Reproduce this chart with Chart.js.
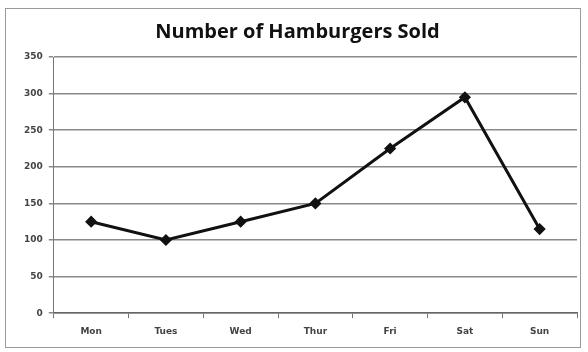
<!DOCTYPE html>
<html>
<head>
<meta charset="utf-8">
<script src="https://cdn.jsdelivr.net/npm/chart.js@4"></script>
<style>
    html, body { margin: 0; padding: 0; background: #fff; }
    #wrap { position: relative; width: 588px; height: 352px; }
    #frame { position: absolute; left: 5px; top: 8px; width: 574px; height: 338px; border: 1px solid #9a9a9a; pointer-events: none; }
</style>
</head>
<body>
<div id="wrap">
    <canvas id="chart" width="588" height="352"></canvas>
    <div id="frame"></div>
</div>
<script>
const days = ['Mon', 'Tues', 'Wed', 'Thur', 'Fri', 'Sat', 'Sun'];
const sold = [125, 100, 125, 150, 225, 295, 115];
const yTicks = [0, 50, 100, 150, 200, 250, 300, 350];

const ctx = document.getElementById('chart').getContext('2d');
new Chart(ctx, {
    type: 'line',
    data: {
        labels: days,
        datasets: [{
            label: 'Hamburgers',
            data: sold,
            borderColor: '#111',
            borderWidth: 3,
            pointStyle: 'rectRot',
            pointRadius: 4,
            pointBackgroundColor: '#111',
            pointBorderColor: '#111',
            tension: 0
        }]
    },
    options: {
        responsive: false,
        animation: false,
        layout: { padding: { left: 18, right: 11, top: 14, bottom: 7 } },
        plugins: {
            legend: { display: false },
            tooltip: { enabled: false },
            title: {
                display: true,
                text: 'Number of Hamburgers Sold',
                color: '#111',
                font: { family: 'Open Sans', size: 20, weight: 'bold' },
                padding: { top: 6, bottom: 13 }
            }
        },
        scales: {
            x: {
                offset: true,
                grid: { offset: true, drawOnChartArea: false, drawTicks: true, tickLength: 5, color: '#777', lineWidth: 1 },
                border: { color: '#666', width: 1.5 },
                ticks: { color: '#444', padding: 8, font: { family: 'DejaVu Sans', size: 9, weight: 'bold' } }
            },
            y: {
                min: 0,
                max: 350,
                afterBuildTicks: axis => { axis.ticks = yTicks.map(v => ({ value: v })); },
                grid: { color: '#8a8a8a', lineWidth: 1.5, tickLength: 5 },
                border: { color: '#777', width: 1 },
                ticks: { color: '#444', padding: 6, font: { family: 'DejaVu Sans', size: 9, weight: 'bold' } }
            }
        }
    }
});
</script>
</body>
</html>
